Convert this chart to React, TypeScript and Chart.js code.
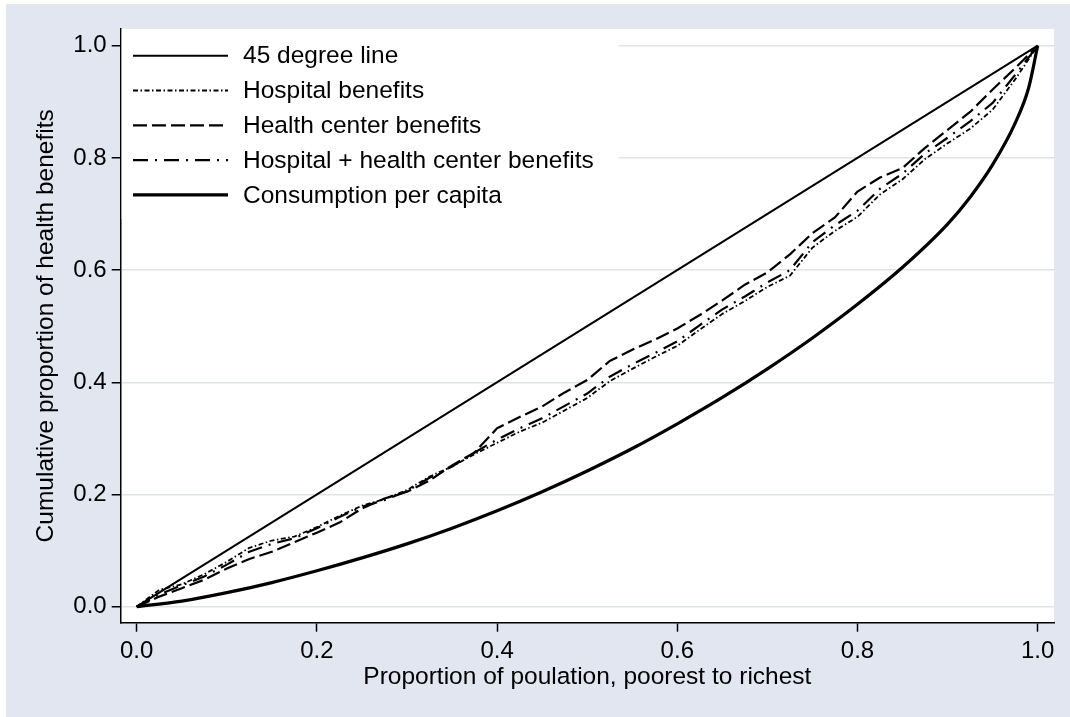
import React, { useEffect, useRef } from "react";
import { Chart, registerables } from "chart.js";

Chart.register(...registerables);

const FONT = '"Liberation Sans", Arial, Helvetica, sans-serif';
const PANEL = "#e1e6f1";
const GRID = "#dde3ee";
const TEXT_SIZE = 24.5;
const TICK_SIZE = 24;

// Axis ticks and titles
const tickValues = [0, 0.2, 0.4, 0.6, 0.8, 1.0];
const xTitle = "Proportion of poulation, poorest to richest";
const yTitle = "Cumulative proportion of health benefits";

// Line of equality
const equalityX = [0, 1];
const equalityY = [0, 1];

// Cumulative population share for the benefit curves
const benefitX = [
  0, 0.025, 0.05, 0.075, 0.1, 0.125, 0.15, 0.175, 0.2, 0.225, 0.25, 0.275, 0.3, 0.325,
  0.35, 0.375, 0.4, 0.425, 0.45, 0.475, 0.5, 0.525, 0.55, 0.575, 0.6, 0.625, 0.65,
  0.675, 0.7, 0.725, 0.75, 0.775, 0.8, 0.825, 0.85, 0.875, 0.9, 0.925, 0.95, 0.975, 1.0,
];

const hospitalBenefits = [
  0, 0.03, 0.04, 0.058, 0.08, 0.105, 0.118, 0.125, 0.142, 0.162, 0.18, 0.192, 0.208, 0.232,
  0.25, 0.272, 0.292, 0.312, 0.328, 0.35, 0.372, 0.402, 0.424, 0.445, 0.465, 0.494, 0.522,
  0.545, 0.57, 0.59, 0.64, 0.67, 0.695, 0.735, 0.762, 0.798, 0.826, 0.852, 0.886, 0.94, 1.0,
];

const healthCenterBenefits = [
  0, 0.018, 0.033, 0.048, 0.068, 0.085, 0.098, 0.115, 0.132, 0.15, 0.175, 0.193, 0.205, 0.225,
  0.252, 0.275, 0.318, 0.338, 0.357, 0.382, 0.404, 0.438, 0.458, 0.476, 0.496, 0.52, 0.546,
  0.574, 0.596, 0.628, 0.666, 0.694, 0.74, 0.765, 0.782, 0.818, 0.85, 0.882, 0.922, 0.96, 1.0,
];

const combinedBenefits = [
  0, 0.022, 0.038, 0.054, 0.075, 0.098, 0.112, 0.122, 0.14, 0.16, 0.178, 0.19, 0.206, 0.23,
  0.25, 0.275, 0.298, 0.318, 0.336, 0.358, 0.38, 0.41, 0.432, 0.452, 0.473, 0.502, 0.53,
  0.553, 0.578, 0.6, 0.65, 0.68, 0.706, 0.745, 0.772, 0.808, 0.836, 0.865, 0.898, 0.948, 1.0,
];

// Lorenz curve of consumption per capita
const consumptionX = [
  0, 0.05, 0.1, 0.15, 0.2, 0.25, 0.3, 0.35, 0.4, 0.45, 0.5, 0.55, 0.6, 0.65, 0.7, 0.75,
  0.8, 0.85, 0.9, 0.925, 0.95, 0.975, 0.99, 1.0,
];
const consumptionY = [
  0, 0.01, 0.025, 0.043, 0.064, 0.087, 0.112, 0.14, 0.171, 0.205, 0.242, 0.282, 0.326, 0.373,
  0.424, 0.479, 0.539, 0.605, 0.682, 0.73, 0.788, 0.862, 0.925, 1.0,
];

const seriesNames = [
  "45 degree line",
  "Hospital benefits",
  "Health center benefits",
  "Hospital + health center benefits",
  "Consumption per capita",
];

const toPoints = (xs: number[], ys: number[]) => xs.map((x, i) => ({ x, y: ys[i] }));

const styles = [
  { width: 2, dash: [] as number[] },
  { width: 1.8, dash: [5, 2.5, 1.5, 2.5] },
  { width: 2.2, dash: [14, 5] },
  { width: 2.2, dash: [15, 7, 2, 7] },
  { width: 3.2, dash: [] as number[] },
];

const backdrop = {
  id: "backdrop",
  beforeDraw(chart: any) {
    const { ctx, chartArea } = chart;
    ctx.save();
    ctx.fillStyle = "#ffffff";
    ctx.fillRect(0, 0, chart.width, chart.height);
    ctx.fillStyle = PANEL;
    ctx.fillRect(6, 4, chart.width - 6, chart.height - 4);
    ctx.fillStyle = "#ffffff";
    ctx.fillRect(chartArea.left, chartArea.top, chartArea.right - chartArea.left, chartArea.bottom - chartArea.top);
    ctx.restore();
  },
};

const keyBox = {
  id: "keyBox",
  beforeDatasetsDraw(chart: any) {
    const { ctx, chartArea } = chart;
    ctx.save();
    ctx.fillStyle = "#ffffff";
    ctx.fillRect(chartArea.left + 1, chartArea.top, 619 - chartArea.left - 1, 190);
    ctx.font = `${TEXT_SIZE}px ${FONT}`;
    ctx.textBaseline = "middle";
    ctx.textAlign = "left";
    seriesNames.forEach((name, i) => {
      const y = 55.7 + i * 34.8;
      const s = styles[i];
      ctx.strokeStyle = "#000";
      ctx.lineWidth = s.width;
      ctx.setLineDash(s.dash);
      ctx.beginPath();
      ctx.moveTo(133, y);
      ctx.lineTo(228, y);
      ctx.stroke();
      ctx.setLineDash([]);
      ctx.fillStyle = "#000";
      ctx.fillText(name, 243, y + 1);
    });
    ctx.restore();
  },
};

export default function App() {
  const ref = useRef<HTMLCanvasElement>(null);

  useEffect(() => {
    if (!ref.current) return;
    const datasets = [
      toPoints(equalityX, equalityY),
      toPoints(benefitX, hospitalBenefits),
      toPoints(benefitX, healthCenterBenefits),
      toPoints(benefitX, combinedBenefits),
      toPoints(consumptionX, consumptionY),
    ].map((data, i) => ({
      label: seriesNames[i],
      data,
      borderColor: "#000",
      borderWidth: styles[i].width,
      borderDash: styles[i].dash,
      pointRadius: 0,
      fill: false,
      tension: 0,
      cubicInterpolationMode: i === 4 ? ("monotone" as const) : ("default" as const),
      borderJoinStyle: "round" as const,
    }));

    const fixTicks = (scale: any) => {
      scale.ticks = tickValues.map((v) => ({ value: v }));
    };

    const chart = new Chart(ref.current, {
      type: "line",
      data: { datasets },
      options: {
        animation: false,
        responsive: false,
        devicePixelRatio: 1,
        layout: { padding: { top: 29, right: 16, left: 0, bottom: 0 } },
        plugins: { legend: { display: false }, tooltip: { enabled: false } },
        scales: {
          x: {
            type: "linear",
            min: -0.01776,
            max: 1.0181,
            afterBuildTicks: fixTicks,
            afterFit: (s: any) => {
              s.height = 94.3;
            },
            grid: { display: true, drawOnChartArea: false, tickLength: 9, tickColor: "#000", tickWidth: 1.5 },
            border: { display: true, color: "#000", width: 1.5 },
            ticks: {
              color: "#000",
              padding: 5,
              font: { family: FONT, size: TICK_SIZE },
              callback: (v: any) => Number(v).toFixed(1),
              maxRotation: 0,
            },
            title: {
              display: true,
              text: xTitle,
              color: "#000",
              font: { family: FONT, size: TEXT_SIZE },
              padding: { top: 0, bottom: 25 },
            },
          },
          y: {
            type: "linear",
            min: -0.0285,
            max: 1.0298,
            afterBuildTicks: fixTicks,
            afterFit: (s: any) => {
              s.width = 120.7;
            },
            grid: { display: true, color: GRID, lineWidth: 1.5, tickLength: 9, tickColor: "#000", tickWidth: 1.5 },
            border: { display: true, color: "#000", width: 1.5 },
            ticks: {
              color: "#000",
              padding: 5,
              font: { family: FONT, size: TICK_SIZE },
              callback: (v: any) => Number(v).toFixed(1),
            },
            title: {
              display: true,
              text: yTitle,
              color: "#000",
              font: { family: FONT, size: TEXT_SIZE },
              padding: { top: 32, bottom: 0 },
            },
          },
        },
      },
      plugins: [backdrop, keyBox],
    });
    return () => chart.destroy();
  }, []);

  return (
    <div style={{ position: "absolute", left: 0, top: 0, width: 1070, height: 717 }}>
      <canvas ref={ref} width={1070} height={717} style={{ width: 1070, height: 717, display: "block" }} />
    </div>
  );
}
